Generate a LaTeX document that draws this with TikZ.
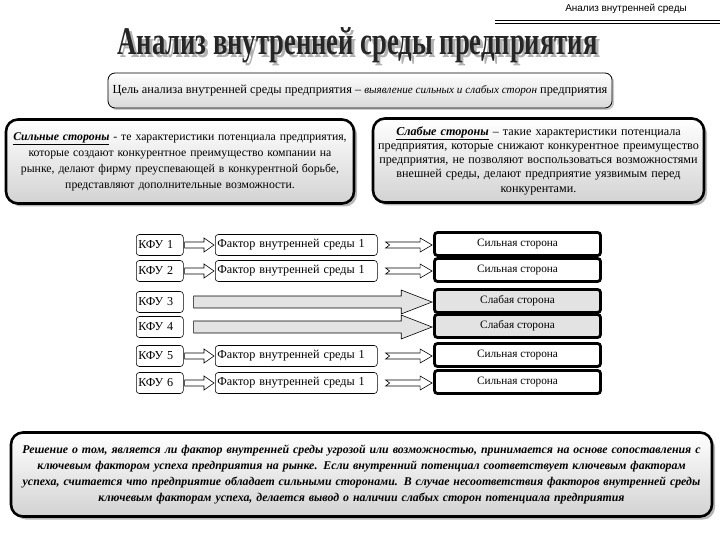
\documentclass[tikz,border=0pt]{standalone}
\usepackage{fontspec}
\setmainfont{Liberation Serif}
\newfontfamily\hdrfont{Liberation Sans}
\usetikzlibrary{calc,shadows}

% block arrow between two points: #1 start, #2 end, #3 shaft half, #4 head half, #5 head length, #6 notch, #7 style
\newcommand\blockarr[7]{%
  \path let \p1=#1, \p2=#2 in [#7]
    (\x1,\y1+#3) -- (\x2-#5,\y1+#3) -- (\x2-#5,\y1+#4) -- (\x2,\y1)
    -- (\x2-#5,\y1-#4) -- (\x2-#5,\y1-#3) -- (\x1,\y1-#3) -- (\x1+#6,\y1) -- cycle;}

\newcommand\titletext{\resizebox{480bp}{27bp}{\bfseries Анализ внутренней среды предприятия}}

\tikzset{
  goalbox/.style={draw=black, line width=0.8bp, rounded corners=7bp,
    top color=white, bottom color=gray!30, inner sep=0pt,
    drop shadow={shadow xshift=2bp, shadow yshift=-2bp, fill=gray!70, opacity=0.6},
    font=\fontsize{12.4}{14}\selectfont},
  panel/.style={draw=black, line width=2.6bp, rounded corners=12bp,
    top color=white, bottom color=gray!35, inner sep=0pt, align=center,
    drop shadow={shadow xshift=3bp, shadow yshift=-3bp, fill=gray!80, opacity=0.7},
    font=\fontsize{11.8}{16}\selectfont},
  kfubox/.style={draw=black, line width=0.6bp, rounded corners=3bp, fill=white,
    minimum height=21bp, inner sep=2bp, align=left, anchor=west,
    font=\fontsize{12.2}{13}\selectfont},
  sidebox/.style={draw=black, line width=2.8bp, rounded corners=3bp,
    minimum width=166bp, minimum height=23bp, inner sep=0pt,
    font=\fontsize{11.3}{12}\selectfont},
  strongbox/.style={sidebox, fill=white},
  weakbox/.style={sidebox, fill=gray!22},
  hollow/.style={draw=black, line width=0.6bp, fill=white},
  bigarr/.style={draw=black, line width=0.6bp, fill=gray!22},
}

\begin{document}
\begin{tikzpicture}[x=1bp,y=-1bp]
\useasboundingbox (0,0) rectangle (720,540);

% header
\node[font=\hdrfont\fontsize{10}{11}\selectfont, anchor=east, inner sep=0pt] (hdr) at (687,9) {Анализ внутренней среды};
\draw[line width=0.9bp] (495,20.5) -- (720,20.5);
\draw[line width=0.9bp] (495,23.5) -- (720,23.5);

% title with its shadow
\node[inner sep=0pt] (title) at (357.5,46.5)
  {\makebox[0pt][l]{\hspace{3bp}\raisebox{-3bp}{\color{gray!60}\titletext}}{\color{black!85}\raisebox{0pt}{\titletext}}\hspace{3bp}};

% goal
\node[goalbox, minimum width=504bp, minimum height=35bp] (goal) at (360,90.5)
  {Цель анализа внутренней среды предприятия – {\itshape\fontsize{11.2}{12}\selectfont выявление сильных и слабых сторон} предприятия};

% strong / weak
\node[panel, minimum width=348bp, minimum height=84bp, text width=345bp] (strong) at (180,161.5)
  {\underline{\bfseries\itshape Сильные стороны} - те характеристики потенциала предприятия,\\
   которые создают конкурентное преимущество компании на\\
   рынке, делают фирму преуспевающей в конкурентной борьбе,\\
   представляют дополнительные возможности.};
\node[panel, minimum width=331bp, minimum height=84bp, text width=328bp,
  font=\fontsize{12.2}{14.3}\selectfont] (weak) at (538.5,160.5)
  {\underline{\bfseries\itshape Слабые стороны} – такие характеристики потенциала\\
   предприятия, которые снижают конкурентное преимущество\\
   предприятия, не позволяют воспользоваться возможностями\\
   внешней среды, делают предприятие уязвимым перед\\
   конкурентами.};

% rows
\foreach \i/\y in {1/245,2/271,3/302,4/327,5/356,6/383}{
  \node[kfubox, text width=43bp] (k\i) at (136,\y) {КФУ \i};
}
\foreach \i/\y in {1/245,2/271,5/356,6/383}{
  \node[kfubox, text width=158bp] (f\i) at (215,\y) {Фактор внутренней среды 1};
  \node[strongbox] (s\i) at (517.5,\y-1) {Сильная сторона};
  \blockarr{($(k\i.east)+(1,0)$)}{($(f\i.west)+(-1,0)$)}{3pt}{7pt}{10pt}{0pt}{hollow}
  \blockarr{($(f\i.east)+(8,0)$)}{($(s\i.west)+(-1,0)$)}{3pt}{7pt}{12pt}{4pt}{hollow}
}
\foreach \i/\y in {3/302,4/327}{
  \node[weakbox] (s\i) at (517.5,\y-1) {Слабая сторона};
  \blockarr{($(k\i.east)+(10,0)$)}{($(s\i.west)+(-1,0)$)}{6pt}{12pt}{31pt}{0pt}{bigarr}
}

% conclusion
\node[panel, minimum width=701bp, minimum height=84bp, text width=698bp,
  font=\fontsize{11.9}{16}\selectfont\bfseries\itshape] (concl) at (361.5,474.5)
  {Решение о том, является ли фактор внутренней среды угрозой или возможностью, принимается на основе сопоставления с\\
   ключевым фактором успеха предприятия на рынке. Если внутренний потенциал соответствует ключевым факторам\\
   успеха, считается что предприятие обладает сильными сторонами. В случае несоответствия факторов внутренней среды\\
   ключевым факторам успеха, делается вывод о наличии слабых сторон потенциала предприятия};
\end{tikzpicture}
\end{document}
